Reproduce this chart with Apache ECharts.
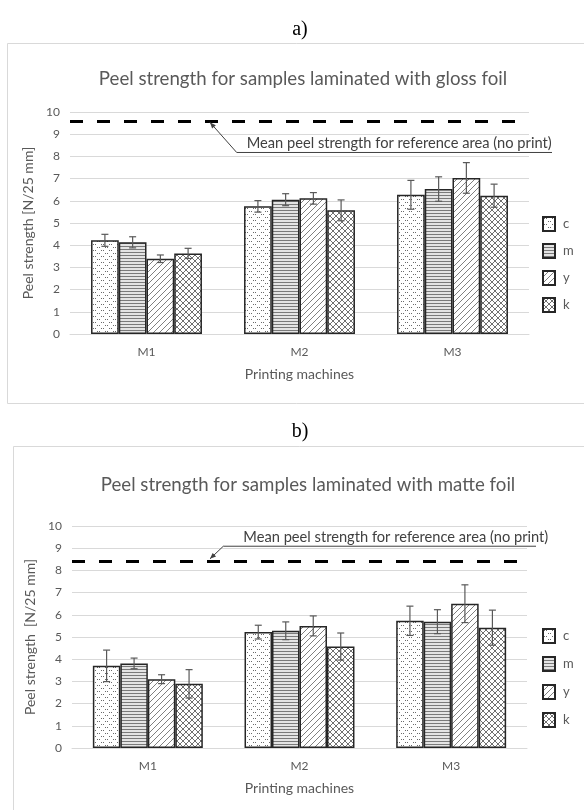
<!DOCTYPE html>
<html>
<head>
<meta charset="utf-8">
<script src="https://cdn.jsdelivr.net/npm/echarts@6/dist/echarts.min.js"></script>
<style>
  body { margin: 0; background: #fff; }
  #main { width: 584px; height: 810px; }
</style>
</head>
<body>
<div id="main"></div>
<script>
// data
var categories = ['M1', 'M2', 'M3']
var seriesNames = ['c', 'm', 'y', 'k']
var yTicks = { min: 0, max: 10, interval: 1 }

// a) gloss foil
var glossC = [4.22, 5.75, 6.27]
var glossM = [4.13, 6.05, 6.53]
var glossY = [3.39, 6.11, 7.03]
var glossK = [3.63, 5.57, 6.23]
var glossCErr = [0.27, 0.26, 0.65]
var glossMErr = [0.25, 0.27, 0.55]
var glossYErr = [0.17, 0.26, 0.69]
var glossKErr = [0.23, 0.47, 0.52]
var glossRef = 9.6

// b) matte foil
var matteC = [3.70, 5.22, 5.73]
var matteM = [3.81, 5.28, 5.69]
var matteY = [3.10, 5.50, 6.50]
var matteK = [2.89, 4.57, 5.42]
var matteCErr = [0.71, 0.31, 0.66]
var matteMErr = [0.24, 0.40, 0.54]
var matteYErr = [0.20, 0.45, 0.85]
var matteKErr = [0.64, 0.61, 0.79]
var matteRef = 8.4

var FONT = 'Lato'
var TEXT = '#595959'
var GAP = 0.275

// 图案填充
function pattern (w, h, draw) {
  var cv = document.createElement('canvas')
  cv.width = w
  cv.height = h
  var ctx = cv.getContext('2d')
  ctx.fillStyle = '#fff'
  ctx.fillRect(0, 0, w, h)
  draw(ctx)
  return { image: cv, repeat: 'repeat' }
}
var fills = [
  pattern(8, 6, function (ctx) {
    ctx.fillStyle = '#6a6a6a'
    ctx.fillRect(1, 1, 1, 1); ctx.fillRect(3, 1, 1, 1)
    ctx.fillRect(5, 4, 1, 1); ctx.fillRect(7, 4, 1, 1)
  }),
  pattern(4, 3, function (ctx) {
    ctx.fillStyle = '#e4e4e4'
    ctx.fillRect(0, 1, 4, 2)
    ctx.fillStyle = '#7a7a7a'
    ctx.fillRect(0, 0, 4, 1)
  }),
  pattern(6, 6, function (ctx) {
    ctx.fillStyle = '#808080'
    for (var i = 0; i < 6; i++) ctx.fillRect(i, 5 - i, 1, 1)
  }),
  pattern(6, 6, function (ctx) {
    ctx.fillStyle = '#707070'
    for (var i = 0; i < 6; i++) { ctx.fillRect(i, i, 1, 1); ctx.fillRect(i, 5 - i, 1, 1) }
  })
]

function errorRenderer (params, api) {
  var cat = api.value(0)
  var idx = api.value(1)
  var mean = api.value(2)
  var err = api.value(3)
  var band = api.size([1, 0])[0]
  var groupW = band * (1 - GAP)
  var barW = groupW / 4
  var cx = api.coord([cat, mean])[0] - groupW / 2 + barW * (idx + 0.5)
  var yTop = api.coord([cat, mean + err])[1]
  var yBot = api.coord([cat, mean - err])[1]
  var cap = 3.5
  var style = { stroke: '#595959', lineWidth: 1.2 }
  return {
    type: 'group',
    children: [
      { type: 'line', shape: { x1: cx, y1: yTop, x2: cx, y2: yBot }, style: style },
      { type: 'line', shape: { x1: cx - cap, y1: yTop, x2: cx + cap, y2: yTop }, style: style },
      { type: 'line', shape: { x1: cx - cap, y1: yBot, x2: cx + cap, y2: yBot }, style: style }
    ]
  }
}

function buildSeries (gi, means, errs, ref) {
  var out = []
  var errData = []
  means.forEach(function (vals, i) {
    var s = {
      name: seriesNames[i],
      type: 'bar',
      xAxisIndex: gi,
      yAxisIndex: gi,
      data: vals,
      barCategoryGap: (GAP * 100) + '%',
      barGap: '0%',
      itemStyle: { color: fills[i], borderColor: '#262626', borderWidth: 1.5 },
      emphasis: { disabled: true }
    }
    if (i === 0) {
      s.markLine = {
        silent: true,
        symbol: 'none',
        label: { show: false },
        lineStyle: { color: '#000', width: 3, type: [13, 14] },
        data: [{ yAxis: ref }]
      }
    }
    out.push(s)
    vals.forEach(function (v, c) { errData.push([c, i, v, errs[i][c]]) })
  })
  out.push({
    name: 'err' + gi,
    type: 'custom',
    xAxisIndex: gi,
    yAxisIndex: gi,
    z: 5,
    silent: true,
    renderItem: errorRenderer,
    encode: { x: 0, y: 2 },
    data: errData
  })
  return out
}

function xAxis (gi) {
  return {
    type: 'category',
    gridIndex: gi,
    data: categories,
    name: 'Printing machines',
    nameLocation: 'middle',
    nameGap: 33,
    nameTextStyle: { fontFamily: FONT, fontSize: 14, color: TEXT },
    axisLine: { lineStyle: { color: '#d9d9d9' } },
    axisTick: { show: false },
    axisLabel: { fontFamily: FONT, fontSize: 12, color: TEXT, margin: 12 }
  }
}
function yAxis (gi, name, gap) {
  return {
    type: 'value',
    gridIndex: gi,
    min: yTicks.min,
    max: yTicks.max,
    interval: yTicks.interval,
    name: name,
    nameLocation: 'middle',
    nameGap: gap,
    nameTextStyle: { fontFamily: FONT, fontSize: 14, color: TEXT },
    axisLine: { show: false },
    axisTick: { show: false },
    axisLabel: { fontFamily: FONT, fontSize: 12, color: TEXT, margin: 10 },
    splitLine: { lineStyle: { color: '#d9d9d9' } }
  }
}
function legend (top, gap) {
  return {
    orient: 'vertical',
    left: 542,
    top: top,
    padding: 0,
    icon: 'rect',
    itemWidth: 12,
    itemHeight: 14,
    itemGap: gap,
    selectedMode: false,
    data: seriesNames,
    textStyle: { fontFamily: FONT, fontSize: 13, color: TEXT, padding: [0, 0, 0, 3] }
  }
}

var chart = echarts.init(document.getElementById('main'))
var option = {
  animation: false,
  backgroundColor: '#fff',
  title: [
    { text: 'a)', left: 300, top: 20, textAlign: 'center', padding: 0,
      textStyle: { fontFamily: 'Liberation Serif', fontSize: 20, fontWeight: 'normal', color: '#000' } },
    { text: 'Peel strength for samples laminated with gloss foil', left: 303, top: 69, textAlign: 'center', padding: 0,
      textStyle: { fontFamily: FONT, fontSize: 18.67, fontWeight: 'normal', color: TEXT } },
    { text: 'b)', left: 300, top: 422, textAlign: 'center', padding: 0,
      textStyle: { fontFamily: 'Liberation Serif', fontSize: 20, fontWeight: 'normal', color: '#000' } },
    { text: 'Peel strength for samples laminated with matte foil', left: 308, top: 475, textAlign: 'center', padding: 0,
      textStyle: { fontFamily: FONT, fontSize: 18.67, fontWeight: 'normal', color: TEXT } }
  ],
  legend: [legend(216, 11), legend(628, 12)],
  grid: [
    { left: 70, top: 112, width: 459, height: 222 },
    { left: 72, top: 526, width: 455, height: 222 }
  ],
  xAxis: [xAxis(0), xAxis(1)],
  yAxis: [yAxis(0, 'Peel strength [N/25 mm]', 25), yAxis(1, 'Peel strength  [N/25 mm]', 24)],
  series: buildSeries(0, [glossC, glossM, glossY, glossK], [glossCErr, glossMErr, glossYErr, glossKErr], glossRef)
    .concat(buildSeries(1, [matteC, matteM, matteY, matteK], [matteCErr, matteMErr, matteYErr, matteKErr], matteRef))
}
chart.setOption(option)

// 注释：文字 + 引线 + 箭头
function arrowHead (tip, from) {
  var dx = tip[0] - from[0]
  var dy = tip[1] - from[1]
  var len = Math.sqrt(dx * dx + dy * dy)
  dx /= len; dy /= len
  var l = 6
  var w = 2.5
  return [tip, [tip[0] - dx * l - dy * w, tip[1] - dy * l + dx * w], [tip[0] - dx * l + dy * w, tip[1] - dy * l - dx * w]]
}
function note (tip, elbow, endX, textX, textY) {
  var st = { stroke: '#404040', lineWidth: 1, fill: null }
  return [
    { type: 'polyline', shape: { points: [[endX, elbow[1]], elbow, tip] }, style: st, z: 10 },
    { type: 'polygon', shape: { points: arrowHead(tip, elbow) }, style: { fill: '#404040' }, z: 10 },
    { type: 'text', x: textX, y: textY, z: 10,
      style: { text: 'Mean peel strength for reference area (no print)', fontFamily: FONT, fontSize: 14.67, fill: '#404040', verticalAlign: 'middle' } }
  ]
}
var yA = chart.convertToPixel({ yAxisIndex: 0 }, glossRef)
var yB = chart.convertToPixel({ yAxisIndex: 1 }, matteRef)
chart.setOption({
  graphic: [
    { type: 'rect', shape: { x: 7.5, y: 43.5, width: 600, height: 360 }, style: { fill: null, stroke: '#d9d9d9', lineWidth: 1 }, z: -1 },
    { type: 'rect', shape: { x: 13.5, y: 446.5, width: 600, height: 400 }, style: { fill: null, stroke: '#d9d9d9', lineWidth: 1 }, z: -1 }
  ].concat(note([210, yA + 1.5], [236.7, yA + 31.6], 552, 246.7, yA + 22.6))
    .concat(note([210, yB - 2.7], [223.3, yB - 15.3], 536, 243.3, yB - 24.3))
})
</script>
</body>
</html>
